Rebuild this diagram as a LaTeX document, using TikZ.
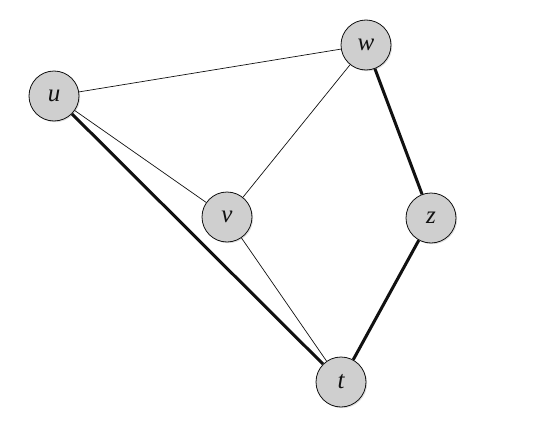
\documentclass[tikz,border=0pt]{standalone}
\usepackage{fontspec}
\setmainfont{Liberation Serif}
\usepackage{tikz}
\usetikzlibrary{shadows}
\definecolor{ink}{HTML}{111111}
\definecolor{vertexfill}{HTML}{CFCFCF}
\tikzset{
  every node/.style={text=ink},
  vertex/.style={circle, draw=ink, fill=vertexfill, line width=.8pt,
    minimum size=50pt, inner sep=0pt,
    drop shadow={opacity=.25, shadow xshift=1.2pt, shadow yshift=-1.2pt},
    font=\fontsize{25}{27}\selectfont\itshape},
  thinedge/.style={draw=ink, line width=.7pt},
  thickedge/.style={draw=ink, line width=3pt}
}
\begin{document}
\begin{tikzpicture}[x=1pt,y=-1pt]
\useasboundingbox (0,0) rectangle (541,439);

% vertices
\node[vertex] (u) at (54,96) {u};
\node[vertex] (w) at (366,45) {w};
\node[vertex] (v) at (227,217) {v};
\node[vertex] (z) at (431,218) {z};
\node[vertex] (t) at (341,382) {t};

% edges
\draw[thinedge] (u) -- (w);
\draw[thinedge] (u) -- (v);
\draw[thinedge] (v) -- (w);
\draw[thinedge] (v) -- (t);
\draw[thickedge] (u) -- (t);
\draw[thickedge] (w) -- (z);
\draw[thickedge] (z) -- (t);

\end{tikzpicture}
\end{document}
